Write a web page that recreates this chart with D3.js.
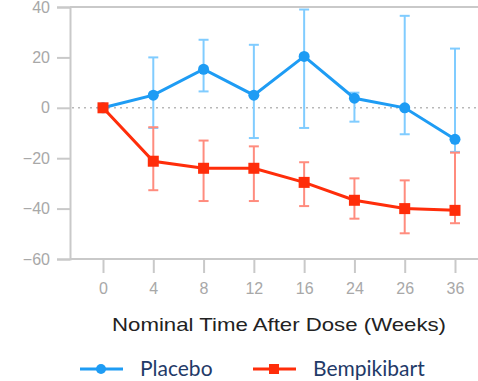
<!DOCTYPE html>
<html>
<head>
<meta charset="utf-8">
<script src="https://cdn.jsdelivr.net/npm/d3@7"></script>
<style>
  body { margin: 0; background: #fff; }
</style>
</head>
<body>
<div id="chart-area"></div>
<script>
// weeks after dose
let weeks = ["0", "4", "8", "12", "16", "24", "26", "36"]
// change from baseline
let placebo      = [0, 5, 15.3, 5, 20.4, 3.8, 0, -12.5]
let placeboHi    = [0, 20, 27, 25, 39, 6, 36.5, 23.5]
let placeboLo    = [0, -8, 6.5, -12, -8, -5.5, -10.5, -17.5]
let bempikibart  = [0, -21.2, -24, -24, -29.6, -36.7, -40, -40.7]
let bempiHi      = [0, -7.7, -13, -15.3, -21.6, -28, -28.8, -17.8]
let bempiLo      = [0, -32.7, -37, -37, -39, -44, -49.8, -45.8]
let yTicks = [40, 20, 0, -20, -40, -60]

let margin = {top: 7, right: 0, bottom: 122, left: 70}
let width = 478 - margin.left - margin.right
let height = 381 - margin.top - margin.bottom

let svg = d3.select("#chart-area")
  .append("svg")
    .attr("width", 478)
    .attr("height", 381)
let g = svg.append("g")
    .attr("transform", "translate(" + margin.left + ", " + margin.top + ")")

let y = d3.scaleLinear().domain([-60, 40]).range([height, 0])
let x = d3.scalePoint().domain(weeks).range([33, 385])

let axisGray = "#c9c9c9"
let labelGray = "#a8a8a8"

// left axis
let leftAxis = d3.axisLeft(y).tickValues(yTicks).tickSize(13).tickPadding(7)
let la = g.append("g").attr("class", "left axis").call(leftAxis)
la.selectAll("line").attr("stroke", axisGray).attr("stroke-width", 2)
la.select(".domain").attr("stroke", axisGray).attr("stroke-width", 2)
la.selectAll("text")
  .attr("fill", labelGray)
  .style("font-family", "Liberation Sans, Arial, sans-serif")
  .style("font-size", "16px")

// top border
g.append("line")
  .attr("x1", 0).attr("x2", width)
  .attr("y1", 0).attr("y2", 0)
  .attr("stroke", axisGray).attr("stroke-width", 2)

// bottom axis
let bottomAxis = d3.axisBottom(x).tickSize(14).tickSizeOuter(0).tickPadding(10)
let ba = g.append("g")
  .attr("class", "bottom axis")
  .attr("transform", "translate(0, " + height + ")")
  .call(bottomAxis)
ba.select(".domain").attr("d", "M0,0H" + width).attr("stroke", axisGray).attr("stroke-width", 2)
ba.selectAll("line").attr("stroke", axisGray).attr("stroke-width", 2)
ba.selectAll("text")
  .attr("fill", labelGray)
  .style("font-family", "Liberation Sans, Arial, sans-serif")
  .style("font-size", "16px")

// zero reference
g.append("line")
  .attr("x1", 2).attr("x2", width)
  .attr("y1", y(0)).attr("y2", y(0))
  .attr("stroke", "#b8b8b8").attr("stroke-width", 1.5)
  .attr("stroke-dasharray", "2,4")

function series(vals, hi, lo, color, light, shape) {
  let data = weeks.map((w, i) => ({w: w, v: vals[i], hi: hi[i], lo: lo[i]}))
  let eb = g.append("g")
  data.filter(d => d.hi !== d.lo).forEach(d => {
    eb.append("line")
      .attr("x1", x(d.w)).attr("x2", x(d.w))
      .attr("y1", y(d.hi)).attr("y2", y(d.lo))
      .attr("stroke", light).attr("stroke-width", 2)
    ;[d.hi, d.lo].forEach(e => {
      eb.append("line")
        .attr("x1", x(d.w) - 5).attr("x2", x(d.w) + 5)
        .attr("y1", y(e)).attr("y2", y(e))
        .attr("stroke", light).attr("stroke-width", 2)
    })
  })
  g.append("path")
    .datum(data)
    .attr("fill", "none")
    .attr("stroke", color)
    .attr("stroke-width", 3)
    .attr("d", d3.line().x(d => x(d.w)).y(d => y(d.v)))
  if (shape === "circle") {
    g.selectAll(null).data(data).enter()
      .append("circle")
      .attr("cx", d => x(d.w))
      .attr("cy", d => y(d.v))
      .attr("r", 5.5)
      .attr("fill", color)
  } else {
    g.selectAll(null).data(data).enter()
      .append("rect")
      .attr("x", d => x(d.w) - 5.5)
      .attr("y", d => y(d.v) - 5.5)
      .attr("width", 11).attr("height", 11)
      .attr("fill", color)
  }
}

let blue = "#1e9cf4", blueLight = "#80ccff"
let red = "#ff2d0a", redLight = "#ff8c7e"
series(placebo, placeboHi, placeboLo, blue, blueLight, "circle")
series(bempikibart, bempiHi, bempiLo, red, redLight, "square")

// x title
svg.append("text")
  .attr("x", 279)
  .attr("y", 331)
  .attr("text-anchor", "middle")
  .attr("textLength", 334)
  .attr("lengthAdjust", "spacingAndGlyphs")
  .style("font-family", "Liberation Sans, Arial, sans-serif")
  .style("font-size", "19px")
  .style("fill", "#222")
  .text("Nominal Time After Dose (Weeks)")

// legend
let legend = [
  {name: "Placebo", color: blue, shape: "circle", x: 80},
  {name: "Bempikibart", color: red, shape: "square", x: 253}
]
legend.forEach(l => {
  let lg = svg.append("g").attr("transform", "translate(" + l.x + ", 369)")
  lg.append("line").attr("x1", 0).attr("x2", 43).attr("stroke", l.color).attr("stroke-width", 3)
  if (l.shape === "circle") {
    lg.append("circle").attr("cx", 21).attr("r", 5).attr("fill", l.color)
  } else {
    lg.append("rect").attr("x", 16).attr("y", -5).attr("width", 10).attr("height", 10).attr("fill", l.color)
  }
  lg.append("text")
    .attr("x", 60)
    .attr("y", 7)
    .style("font-family", "Lato, sans-serif")
    .style("font-size", "21px")
    .style("fill", "#1f3a68")
    .text(l.name)
})
</script>
</body>
</html>
